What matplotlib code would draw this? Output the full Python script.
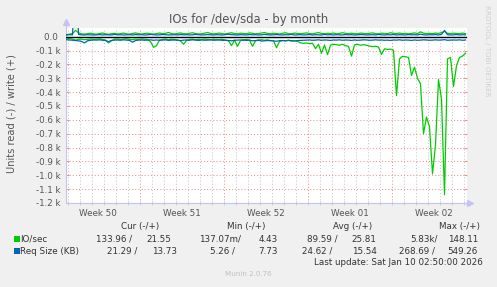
import numpy as np
import matplotlib
matplotlib.use('Agg')
import matplotlib.pyplot as plt
from matplotlib.patches import Rectangle

W, H = 497, 287

# samples every 6 h, time in days since the start of week 50
t0, step = 0.875, 0.25

# IO/sec, read side (drawn negative)
read_io = [
    10, 14, 18, 25, 20, 18, 22, 20, 17, 19,
    18, 16, 20, 24, 45, 30, 18, 17, 20, 18,
    16, 19, 22, 18, 20, 17, 18, 21, 35, 77,
    65, 25, 20, 18, 22, 19, 20, 24, 30, 55,
    28, 20, 18, 22, 19, 21, 18, 20, 23, 19,
    20, 22, 19, 25, 30, 65, 25, 70, 28, 22,
    20, 25, 70, 30, 24, 22, 26, 23, 28, 30,
    80, 35, 28, 30, 26, 32, 30, 35, 45, 48,
    46, 50, 48, 87, 55, 120, 60, 130, 62, 55,
    58, 62, 55, 65, 70, 140, 60, 55, 62, 58,
    62, 68, 72, 70, 75, 128, 88, 92, 90, 98,
    425, 160, 142, 145, 150, 280, 220, 300, 340, 700,
    580, 650, 990, 780, 310, 450, 1140, 160, 150, 360,
    210, 150, 140, 120,
]
# IO/sec, write side
write_io = [
    15, 18, 22, 45, 28, 20, 18, 22, 25, 20,
    18, 22, 26, 20, 17, 21, 24, 19, 22, 26,
    20, 18, 23, 27, 21, 19, 22, 25, 20, 18,
    22, 26, 21, 24, 30, 22, 19, 23, 27, 21,
    20, 24, 28, 22, 19, 21, 25, 30, 23, 20,
    22, 26, 21, 19, 24, 28, 22, 20, 25, 23,
    21, 27, 24, 20, 22, 26, 30, 23, 21, 25,
    22, 19, 24, 28, 22, 20, 26, 23, 21, 24,
    27, 22, 20, 25, 29, 23, 21, 24, 22, 26,
    20, 23, 28, 24, 21, 25, 22, 20, 26, 23,
    21, 24, 27, 22, 20, 25, 23, 21, 28, 24,
    22, 26, 21, 24, 20, 23, 27, 22, 35, 25,
    22, 24, 21, 26, 23, 30, 38, 24, 22, 25,
    23, 21, 26, 22,
]
# Req Size (KB), read side (drawn negative)
req_read = [
    22, 24, 26, 28, 30, 35, 45, 30, 26, 24,
    25, 23, 26, 28, 36, 27, 25, 24, 26, 23,
    25, 27, 40, 28, 25, 24, 26, 25, 23, 26,
    24, 26, 25, 23, 27, 25, 24, 26, 28, 25,
    24, 26, 23, 25, 27, 24, 26, 25, 23, 26,
    25, 24, 27, 26, 28, 30, 26, 25, 24, 26,
    27, 25, 30, 28, 26, 32, 30, 28, 29, 31,
    33, 29, 28, 30, 27, 29, 31, 28, 27, 26,
    25, 24, 26, 25, 23, 26, 24, 25, 27, 24,
    25, 23, 26, 24, 25, 27, 24, 26, 25, 23,
    24, 26, 25, 23, 25, 24, 26, 25, 27, 24,
    25, 23, 26, 24, 25, 27, 24, 26, 25, 23,
    24, 26, 25, 23, 25, 24, 22, 26, 25, 24,
    25, 23, 26, 24,
]
# Req Size (KB), write side
req_write = [
    12, 14, 13, 549, 16, 13, 12, 14, 13, 12,
    13, 15, 12, 14, 13, 12, 16, 13, 14, 12,
    13, 14, 12, 15, 13, 14, 12, 13, 16, 14,
    12, 13, 15, 14, 12, 13, 14, 12, 15, 13,
    14, 12, 13, 16, 14, 12, 13, 15, 13, 12,
    14, 13, 12, 15, 18, 14, 13, 12, 14, 13,
    12, 15, 13, 14, 12, 13, 16, 14, 12, 13,
    15, 13, 12, 14, 13, 16, 12, 13, 14, 12,
    13, 15, 12, 14, 13, 12, 16, 13, 14, 12,
    14, 13, 12, 15, 13, 14, 12, 13, 15, 14,
    12, 13, 14, 12, 16, 13, 12, 14, 13, 15,
    12, 14, 13, 12, 15, 13, 14, 12, 18, 13,
    12, 14, 13, 15, 12, 16, 45, 14, 12, 13,
    15, 12, 14, 13,
]

week_labels = ['Week 50', 'Week 51', 'Week 52', 'Week 01', 'Week 02']
week_starts = [7, 14, 21, 28]
ytick_vals = [0, -100, -200, -300, -400, -500, -600, -700, -800, -900, -1000, -1100, -1200]
ytick_labels = ['0.0 ', '-0.1 k', '-0.2 k', '-0.3 k', '-0.4 k', '-0.5 k', '-0.6 k',
                '-0.7 k', '-0.8 k', '-0.9 k', '-1.0 k', '-1.1 k', '-1.2 k']

legend_headers = ['Cur (-/+)', 'Min (-/+)', 'Avg (-/+)', 'Max (-/+)']
legend_names = ['IO/sec', 'Req Size (KB)']
legend_io = ['133.96 /', '21.55', '137.07m/', '4.43', '89.59 /', '25.81', '5.83k/', '148.11']
legend_req = ['21.29 /', '13.73', '5.26 /', '7.73', '24.62 /', '15.54', '268.69 /', '549.26']

GREEN = '#00CC00'
BLUE = '#0066B3'
AXIS = '#C4C4F4'
MGRID = '#F29090'
GRID = '#C8C8C8'
TXT = '#555555'
LEG = '#333333'


def fx(x):
    return x / W


def fy(y):
    return 1 - y / H


t = t0 + step * np.arange(len(read_io))

fig = plt.figure(figsize=(W / 100, H / 100), dpi=100, facecolor='#F0F0F0')
ax = fig.add_axes([fx(65.5), fy(203), (467 - 65.5) / W, (203 - 27.5) / H])
ax.set_facecolor('white')

ax.plot(t, -np.array(read_io), color=GREEN, lw=0.9, zorder=3)
ax.plot(t, write_io, color=GREEN, lw=0.9, zorder=3)
ax.plot(t, -np.array(req_read), color=BLUE, lw=0.9, zorder=3)
ax.plot(t, req_write, color=BLUE, lw=0.9, zorder=3)
ax.axhline(0, color='black', lw=1.0, zorder=4)

ax.set_xlim(0.79, 34.25)
ax.set_ylim(-1200, 66)

# grid: grey dotted per day, red dotted per week / per 0.1k
for d in range(1, 35):
    if d in week_starts:
        continue
    ax.axvline(d, color=GRID, lw=0.75, ls=(0, (1, 2)), zorder=1)
for d in week_starts:
    ax.axvline(d, color=MGRID, lw=0.75, ls=(0, (1, 2)), zorder=1)
for v in ytick_vals[1:]:
    ax.axhline(v, color=MGRID, lw=0.75, ls=(0, (1, 2)), zorder=1)

ax.set_yticks(ytick_vals)
ax.set_yticklabels(ytick_labels)
ax.tick_params(axis='y', direction='in', length=2, color=MGRID, labelsize=6.3,
               labelcolor=TXT, pad=3.5, right=True)

ax.set_xticks([3.5, 10.5, 17.5, 24.5, 31.5])
ax.set_xticklabels(week_labels)
ax.set_xticks(range(1, 35), minor=True)
ax.tick_params(axis='x', which='major', length=0, labelsize=6.3, labelcolor=TXT, pad=4)
ax.tick_params(axis='x', which='minor', direction='inout', length=3, color=GRID)
for tick, loc in zip(ax.xaxis.get_minor_ticks(), range(1, 35)):
    if loc in week_starts:
        tick.tick1line.set_color(MGRID)

for side in ('top', 'right'):
    ax.spines[side].set_visible(False)
for side in ('left', 'bottom'):
    ax.spines[side].set_color(AXIS)
    ax.spines[side].set_linewidth(0.8)

# axis arrows
ax.plot([1.008], [0], marker='>', ms=4, color=AXIS, transform=ax.transAxes, clip_on=False)
ax.plot([0], [1.03], marker='^', ms=4, color=AXIS, transform=ax.transAxes, clip_on=False)
ax.plot([0, 0], [1.0, 1.03], color=AXIS, lw=0.8, transform=ax.transAxes, clip_on=False)

fig.text(fx(248.3), fy(20), 'IOs for /dev/sda - by month', ha='center', va='center',
         fontsize=8.4, color=TXT)
fig.text(fx(12), fy(114), 'Units read (-) / write (+)', rotation=90, ha='center',
         va='center', fontsize=7.1, color=TXT)
fig.text(fx(487), fy(51), 'RRDTOOL / TOBI OETIKER', rotation=270, ha='center',
         va='center', fontsize=5.1, color='#CFCFCF')

# legend block
for label, x in zip(legend_headers, [120.7, 226.7, 333.3, 439.3]):
    fig.text(fx(x), fy(226.7), label, ha='left', va='center', fontsize=6.3, color=LEG)

value_x_io = [96, 146.7, 199, 258.3, 306.7, 351.7, 410, 447.7]
value_x_req = [106.7, 151.7, 210, 258.3, 301.7, 351.7, 399, 447.7]
for row_y, name, color, vals, xs in [(239.3, legend_names[0], GREEN, legend_io, value_x_io),
                                     (251.0, legend_names[1], BLUE, legend_req, value_x_req)]:
    fig.add_artist(Rectangle((fx(14), fy(row_y + 3)), 6 / W, 6 / H, transform=fig.transFigure,
                             facecolor=color, edgecolor='none'))
    fig.text(fx(20.3), fy(row_y), name, ha='left', va='center', fontsize=6.3, color=LEG)
    for v, x in zip(vals, xs):
        fig.text(fx(x), fy(row_y), v, ha='left', va='center', fontsize=6.3, color=LEG)

fig.text(fx(482.3), fy(262.7), 'Last update: Sat Jan 10 02:50:00 2026', ha='right',
         va='center', fontsize=6.3, color=LEG)
fig.text(fx(248), fy(274), 'Munin 2.0.76', ha='center', va='center', fontsize=5.1,
         color='#C0C0C0')

fig.savefig('out.png', dpi=100, facecolor=fig.get_facecolor())
